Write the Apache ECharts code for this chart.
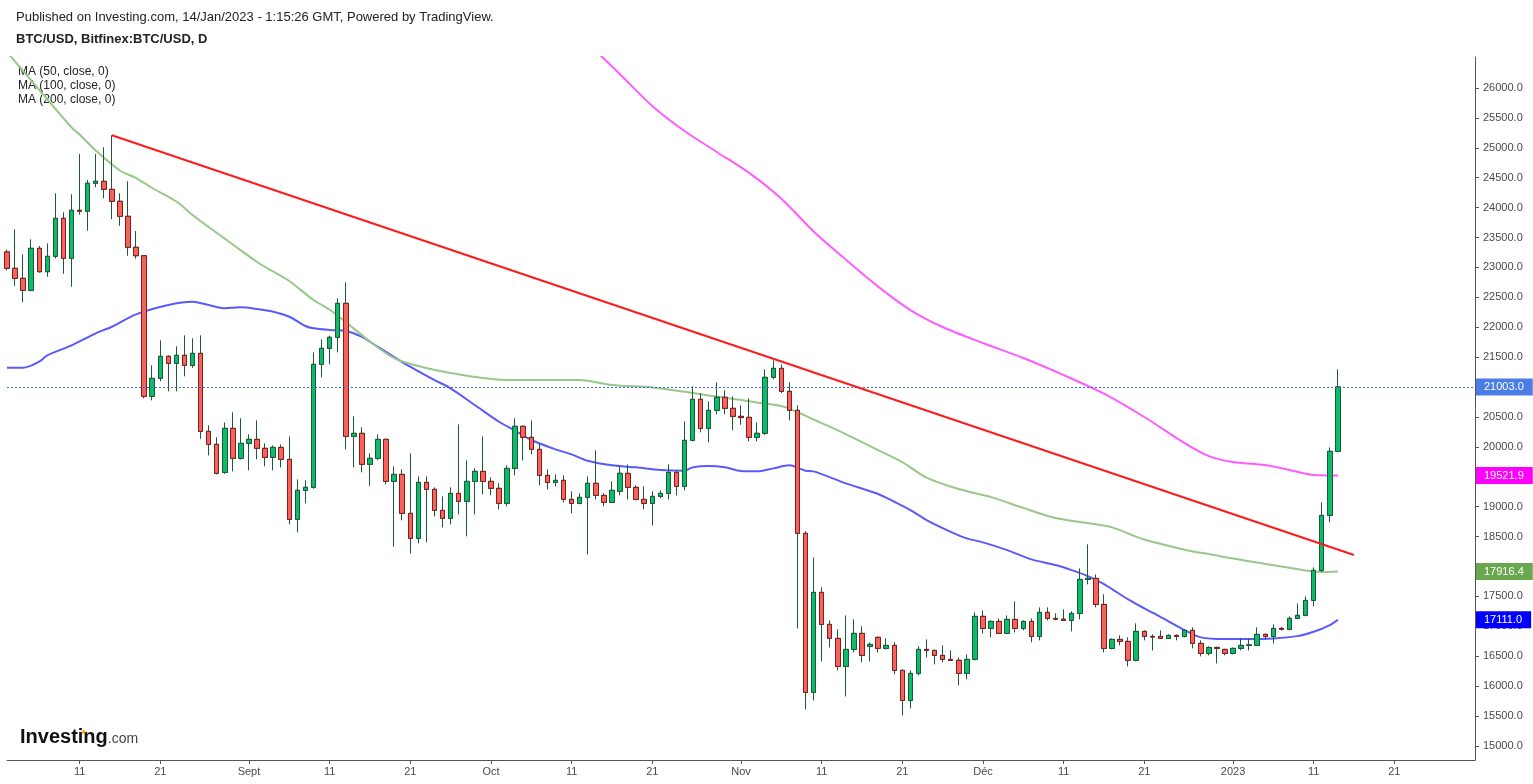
<!DOCTYPE html>
<html><head><meta charset="utf-8">
<script src="https://cdn.jsdelivr.net/npm/echarts@6/dist/echarts.min.js"></script>
<style>html,body{margin:0;padding:0;background:#fff;}#c{width:1533px;height:784px;}</style>
</head><body><div id="c"></div>
<script>
// ---------- DATA ----------
const firstDay = '2022-08-02';
const lastDay = '2023-01-31';
// daily candles from 2022-08-02 : [open, high, low, close]
const candles = [
[23260,23300,22950,22985],[22985,23637,22694,22818],[22818,23219,22417,22617],[22617,23470,22600,23320],
[23320,23358,22913,22929],[22929,23403,22845,23186],[23186,24239,23150,23821],[23821,23922,22895,23153],
[23153,24223,22678,23955],[23955,24896,23882,23940],[23940,24462,23614,24407],[24407,24896,24340,24440],
[24440,25009,24156,24306],[24306,25209,23805,24106],[24106,24239,23698,23855],[23855,24440,23196,23337],
[23337,23609,23146,23196],[23196,23200,20812,20845],[20845,21363,20778,21146],[21146,21782,21096,21514],
[21514,21531,20929,21397],[21397,21681,20929,21531],[21531,21865,21180,21363],[21363,21815,21323,21564],
[21564,21865,20136,20260],[20260,20360,19859,20043],[20043,20160,19540,19558],[19574,20410,19550,20310],
[20310,20578,19591,19809],[19809,20477,19790,20059],[20059,20210,19608,20126],[20126,20444,19792,19976],
[19976,20059,19675,19825],[19825,20025,19608,19992],[19992,20042,19658,19792],[19792,20176,18705,18789],
[18789,19457,18571,19274],[19274,19441,19056,19324],[19324,21581,19300,21380],[21380,21798,21163,21648],
[21648,21860,21380,21832],[21832,22484,21581,22400],[22400,22751,19959,20176],[20176,20511,19658,20227],
[20227,20327,19574,19708],[19708,19892,19350,19809],[19809,20210,19775,20126],[20126,20140,19374,19424],
[19424,19675,18331,19541],[19541,19625,18772,18889],[18889,19892,18220,18471],[18471,19508,18387,19407],
[19407,19508,18404,19290],[19290,19324,18839,18939],[18939,19173,18655,18805],[18805,19324,18705,19223],
[19223,20377,18872,19090],[19090,19775,18504,19424],[19424,19642,18872,19591],[19591,20176,19207,19424],
[19424,19491,19190,19307],[19307,19391,18956,19056],[19056,19692,19006,19641],[19641,20477,19524,20344],
[20344,20360,19775,20160],[20160,20444,19875,19959],[19959,20059,19357,19524],[19524,19625,19290,19407],
[19407,19541,19340,19441],[19441,19525,19073,19123],[19123,19257,18890,19056],[19056,19224,19040,19157],
[19157,19508,18203,19391],[19391,19942,19123,19190],[19190,19224,19006,19073],[19073,19424,19060,19274],
[19257,19675,19190,19558],[19558,19708,19123,19324],[19324,19358,19106,19123],[19123,19341,18956,19056],
[19056,19257,18688,19173],[19173,19274,19140,19223],[19223,19708,19123,19574],[19574,19608,19190,19340],
[19340,20427,19274,20110],[20110,21012,20093,20795],[20795,20895,20243,20310],[20310,20762,20076,20611],
[20611,21079,20545,20829],[20829,20946,20545,20645],[20645,20845,20277,20511],[20511,20695,20370,20490],
[20494,20812,20093,20160],[20160,20410,20093,20227],[20227,21297,20200,21163],[21163,21447,21130,21313],
[21313,21380,20900,20929],[20929,21079,20444,20611],[20611,20695,16966,18555],[18555,18589,15612,15896],
[15896,18153,15762,17568],[17568,17652,16414,17033],[17033,17100,16648,16799],[16799,16950,16264,16331],
[16331,17183,15829,16615],[16615,17117,16565,16883],[16883,17000,16398,16515],[16666,16733,16414,16699],
[16816,16833,16565,16632],[16632,16799,16615,16682],[16682,16733,16197,16264],[16264,16280,15512,15762],
[15762,16264,15629,16214],[16214,16666,16180,16615],[16615,16782,16481,16598],[16598,16610,16364,16515],
[16515,16682,16398,16448],[16448,16598,16425,16432],[16432,16481,16013,16214],[16214,16531,16114,16448],
[16448,17234,16430,17167],[17167,17267,16883,16966],[16966,17100,16816,17083],[17083,17133,16870,16883],
[16883,17183,16870,17117],[17117,17418,16900,16966],[16966,17100,16933,17083],[17083,17133,16733,16832],
[16832,17317,16766,17234],[17234,17317,17100,17133],[17133,17217,17100,17120],[17120,17284,17090,17100],
[17100,17250,16916,17217],[17217,17969,17117,17785],[17785,18371,17702,17802],[17802,17869,17317,17367],
[17367,17535,16565,16632],[16632,16799,16615,16782],[16782,16850,16682,16749],[16749,16816,16331,16432],
[16432,17050,16414,16916],[16916,16933,16766,16832],[16832,16866,16598,16822],[16832,16933,16790,16799],
[16799,16866,16790,16849],[16849,16866,16766,16832],[16832,16950,16816,16933],[16933,16983,16632,16715],
[16715,16766,16498,16548],[16548,16666,16515,16648],[16648,16660,16381,16632],[16615,16625,16515,16548],
[16548,16648,16531,16632],[16632,16799,16598,16682],[16682,16799,16598,16690],[16682,16983,16670,16866],
[16866,16883,16782,16832],[16832,17033,16715,16966],[16966,16990,16930,16950],[16950,17167,16933,17133],
[17133,17384,17120,17184],[17184,17501,17167,17434],[17434,17986,17334,17936],[17936,19073,17910,18855],
[18855,19992,18738,19926],[19926,21297,19910,21003]
];
const ma50 = [
['2022-08-02',21323],['2022-08-04',21323],['2022-08-06',21424],['2022-08-07',21531],['2022-08-10',21698],
['2022-08-13',21899],['2022-08-15',22009],['2022-08-18',22216],['2022-08-22',22372],['2022-08-25',22427],
['2022-08-27',22372],['2022-08-29',22317],['2022-08-31',22333],['2022-09-02',22305],['2022-09-04',22260],
['2022-09-06',22176],['2022-09-08',22021],['2022-09-09',21982],['2022-09-11',21954],['2022-09-13',21937],
['2022-09-15',21842],['2022-09-16',21758],['2022-09-20',21419],['2022-09-24',21118],['2022-09-26',20979],
['2022-09-29',20700],['2022-10-02',20421],['2022-10-04',20270],['2022-10-06',20115],['2022-10-09',19959],
['2022-10-11',19875],['2022-10-13',19768],['2022-10-16',19692],['2022-10-19',19658],['2022-10-22',19613],
['2022-10-25',19602],['2022-10-26',19658],['2022-10-28',19680],['2022-10-30',19658],['2022-11-01',19596],
['2022-11-03',19591],['2022-11-05',19641],['2022-11-07',19692],['2022-11-09',19602],['2022-11-10',19591],
['2022-11-14',19391],['2022-11-18',19212],['2022-11-20',19083],['2022-11-22',18944],['2022-11-24',18777],
['2022-11-27',18581],['2022-11-29',18471],['2022-12-01',18404],['2022-12-04',18275],['2022-12-07',18120],
['2022-12-10',18025],['2022-12-12',17941],['2022-12-14',17841],['2022-12-16',17707],['2022-12-17',17623],
['2022-12-19',17451],['2022-12-21',17301],['2022-12-23',17160],['2022-12-26',16938],['2022-12-28',16816],
['2022-12-31',16787],['2023-01-03',16787],['2023-01-06',16799],['2023-01-09',16837],['2023-01-11',16909],
['2023-01-13',17021],['2023-01-14',17111]
];
const ma100 = [
['2022-08-02',26600],['2022-08-07',25811],['2022-08-10',25340],['2022-08-11',25223],['2022-08-13',24955],
['2022-08-16',24621],['2022-08-18',24495],['2022-08-20',24328],['2022-08-23',24102],['2022-08-25',23877],
['2022-08-27',23676],['2022-08-30',23383],['2022-09-02',23091],['2022-09-04',22932],['2022-09-06',22773],
['2022-09-09',22455],['2022-09-11',22293],['2022-09-13',22088],['2022-09-16',21761],['2022-09-19',21485],
['2022-09-22',21352],['2022-09-26',21235],['2022-09-30',21151],['2022-10-03',21118],['2022-10-08',21118],
['2022-10-12',21118],['2022-10-16',21034],['2022-10-21',20993],['2022-10-25',20922],['2022-10-28',20859],
['2022-11-01',20783],['2022-11-03',20742],['2022-11-06',20683],['2022-11-08',20583],['2022-11-10',20457],
['2022-11-12',20340],['2022-11-15',20148],['2022-11-18',19947],['2022-11-21',19747],['2022-11-24',19487],
['2022-11-28',19295],['2022-12-02',19161],['2022-12-06',18980],['2022-12-10',18810],['2022-12-14',18727],
['2022-12-17',18655],['2022-12-21',18451],['2022-12-27',18250],['2022-12-29',18209],['2023-01-01',18133],
['2023-01-04',18066],['2023-01-08',17979],['2023-01-10',17933],['2023-01-12',17908],['2023-01-14',17916.4]
];
const ma200 = [
['2022-10-13',26752],['2022-10-17',26230],['2022-10-21',25700],['2022-10-25',25280],['2022-10-29',24930],
['2022-11-02',24580],['2022-11-06',24150],['2022-11-10',23600],['2022-11-14',23130],['2022-11-18',22680],
['2022-11-22',22288],['2022-11-26',22004],['2022-12-01',21736],['2022-12-06',21486],['2022-12-11',21201],
['2022-12-16',20890],['2022-12-21',20500],['2022-12-26',20064],['2022-12-29',19847],['2023-01-01',19747],
['2023-01-05',19697],['2023-01-08',19613],['2023-01-11',19530],['2023-01-14',19521.9]
];
const trendLine = [['2022-08-15',25209],['2023-01-16',18192]];
const lastPrice = 21003.0;
const maLast = {ma50: 17111.0, ma100: 17916.4, ma200: 19521.9};
const yTicks = [15000,15500,16000,16500,17000,17500,18000,18500,19000,19500,20000,20500,21000,21500,22000,22500,23000,23500,24000,24500,25000,25500,26000];
// tick labels hidden under the price tags in the reference
const yLabelTicks = [15000,15500,16000,16500,17000,17500,18500,19000,20000,20500,21500,22000,22500,23000,23500,24000,24500,25000,25500,26000];
const monthNames = {'2022-09':'Sept','2022-10':'Oct','2022-11':'Nov','2022-12':'Déc','2023-01':'2023','2023-02':'Févr'};
const yMin = 14766, yMax = 26518;

// ---------- BUILD ----------
function buildDates(a, b) {
  const out = []; let d = new Date(a + 'T00:00:00Z'); const e = new Date(b + 'T00:00:00Z');
  while (d <= e) { out.push(d.toISOString().slice(0, 10)); d = new Date(d.getTime() + 86400000); }
  return out;
}
const dates = buildDates(firstDay, lastDay);
const wickData = candles.map(([o, h, l, c]) => [o, c, l, h]);
const bodyData = candles.map(([o, h, l, c]) => [o, c, Math.min(o, c), Math.max(o, c)]);
const showTick = (i, v) => { const d = v.slice(8); return d === '01' || d === '11' || d === '21'; };
const FONT = '"Liberation Sans", Arial, sans-serif';

const upFill = '#0bbd68', downFill = '#f7635a', upBorder = '#1c5a3a', downBorder = '#7a1e1e';

function priceTag(value, bg) {
  return {
    symbol: ['none', 'none'], silent: true, animation: false,
    lineStyle: {color: 'rgba(0,0,0,0)', width: 1, type: 'solid'},
    label: {show: true, position: 'end', distance: 1, formatter: value.toFixed(1),
      backgroundColor: bg, color: '#fff', fontSize: 11, fontFamily: FONT,
      padding: [2, 9, 2, 8], lineHeight: 13},
    emphasis: {disabled: true},
    data: [{yAxis: value}]
  };
}

const chart = echarts.init(document.getElementById('c'), null, {renderer: 'canvas'});
chart.setOption({
  animation: false,
  backgroundColor: '#ffffff',
  grid: {left: 7, right: 58, top: 57, bottom: 24, containLabel: false},
  xAxis: {
    type: 'category', data: dates, boundaryGap: false,
    axisLine: {lineStyle: {color: '#555', width: 1}},
    axisTick: {interval: showTick, length: 4, lineStyle: {color: '#555'}},
    axisLabel: {interval: showTick, color: '#4a4a4a', fontSize: 11, fontFamily: FONT, margin: 6,
      formatter: (v) => { const d = v.slice(8); return d === '01' ? (monthNames[v.slice(0, 7)] || '') : String(+d); }},
    splitLine: {show: false}
  },
  yAxis: {
    type: 'value', position: 'right', min: yMin, max: yMax, scale: true,
    axisLine: {show: true, lineStyle: {color: '#555', width: 1}},
    axisTick: {show: true, length: 4, customValues: yTicks, lineStyle: {color: '#555'}},
    axisLabel: {customValues: yLabelTicks, color: '#4a4a4a', fontSize: 11, fontFamily: FONT, margin: 8,
      formatter: (v) => v.toFixed(1)},
    splitLine: {show: false}
  },
  series: [
    {type: 'line', name: 'MA50', data: ma50, symbol: 'none', smooth: 0.3,
      lineStyle: {color: '#5a5afc', width: 2}, z: 2, markLine: priceTag(maLast.ma50, '#0000ff')},
    {type: 'line', name: 'MA100', data: ma100, symbol: 'none', smooth: 0.3,
      lineStyle: {color: '#98c78a', width: 2}, z: 2, markLine: priceTag(maLast.ma100, '#6aa84f')},
    {type: 'line', name: 'MA200', data: ma200, symbol: 'none', smooth: 0.3,
      lineStyle: {color: '#ff5cff', width: 2}, z: 2, markLine: priceTag(maLast.ma200, '#ff00ff')},
    {type: 'candlestick', name: 'wick', data: wickData, barWidth: 5, clip: true, z: 3,
      itemStyle: {color: upFill, color0: downFill, borderColor: upBorder, borderColor0: upBorder, borderWidth: 1},
      markLine: {
        symbol: ['none', 'none'], silent: true,
        lineStyle: {color: '#3a66d6', type: [2, 2], width: 1},
        label: {show: true, position: 'end', distance: 1, formatter: lastPrice.toFixed(1),
          backgroundColor: '#4a7ee6', color: '#fff', fontSize: 11, fontFamily: FONT,
          padding: [2, 9, 2, 8], lineHeight: 13},
        data: [{yAxis: lastPrice}]
      }},
    {type: 'candlestick', name: 'body', data: bodyData, barWidth: 5, clip: true, z: 4,
      itemStyle: {color: upFill, color0: downFill, borderColor: upBorder, borderColor0: downBorder, borderWidth: 1}},
    {type: 'line', name: 'trend', data: trendLine, symbol: 'none',
      lineStyle: {color: '#ff1a1a', width: 2}, z: 5}
  ],
  graphic: [
    {type: 'text', left: 16, top: 11, style: {text: 'Published on Investing.com, 14/Jan/2023 - 1:15:26 GMT, Powered by TradingView.', font: '13px ' + FONT, fill: '#222'}},
    {type: 'text', left: 16, top: 33, style: {text: 'BTC/USD, Bitfinex:BTC/USD, D', font: 'bold 13px ' + FONT, fill: '#222'}},
    {type: 'text', left: 18, top: 65, style: {text: 'MA (50, close, 0)\nMA (100, close, 0)\nMA (200, close, 0)', font: '12px ' + FONT, fill: '#222', lineHeight: 14}},
    {type: 'text', left: 20, top: 727, style: {
      text: '{a|Investing}{b|.com}',
      rich: {a: {fontFamily: FONT, fontWeight: 'bold', fontSize: 20, fill: '#111'},
             b: {fontFamily: FONT, fontSize: 14, fill: '#444', padding: [4, 0, 0, 0]}}}},
    {type: 'circle', shape: {cx: 83.5, cy: 732, r: 2}, style: {fill: '#f5a623'}, z: 100}
  ]
});
</script></body></html>
